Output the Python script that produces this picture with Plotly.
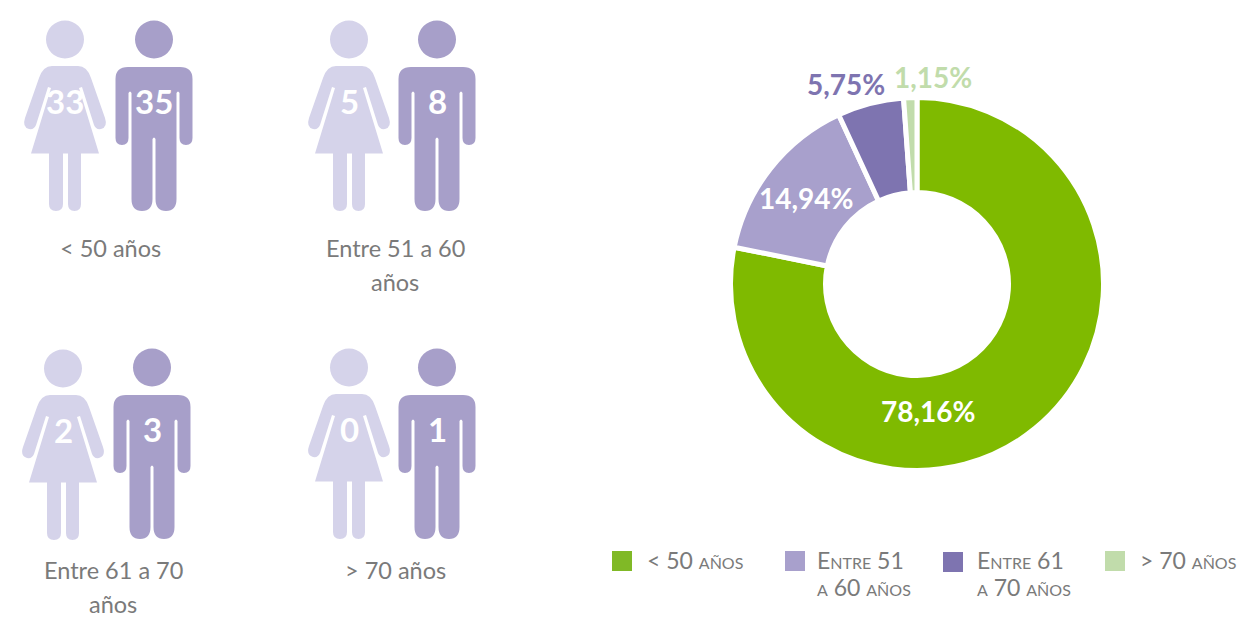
import plotly.graph_objects as go

W, H = 1255, 618

# --- data ---
age_groups = ["< 50 años", "Entre 51 a 60 años", "Entre 61 a 70 años", "> 70 años"]
women = [33, 5, 2, 0]
men = [35, 8, 3, 1]
totals = [68, 13, 5, 1]
legend_labels = [["< 50 años"], ["Entre 51", "a 60 años"], ["Entre 61", "a 70 años"], ["> 70 años"]]
pictogram_labels = [["< 50 años"], ["Entre 51 a 60", "años"], ["Entre 61 a 70", "años"], ["> 70 años"]]
slice_colors = ["#7fba00", "#a8a0cc", "#7e74b0", "#c1dcab"]
legend_colors = ["#80b926", "#a8a0cc", "#7e74b0", "#c1dcab"]
label_colors = ["#ffffff", "#ffffff", "#7e74b0", "#c1dcab"]

# --- layout constants (pixels) ---
CX, CY, R_VISIBLE, R_HOLE, GAP = 917, 284, 184, 94, 5
R = R_VISIBLE + GAP / 2
pct_pos = [(928, 410.5), (805.5, 198), (846, 83.5), (933, 77)]
legend_sq = [(612, 551), (785, 551), (943, 552), (1105, 551)]
legend_txt = [(645, 560), (815, 560), (975, 560), (1138, 560)]
legend_line = 27
picto = [  # woman cx, man cx, dy woman, dy man, label cx, label y, label line height
    (65, 154, 0, 0, 110, 249),
    (349, 437, 0, 0, 395, 249),
    (63, 152, 329, 328, 113, 571),
    (349, 437, 328, 328, 395, 571),
]
label_line = 33.5
WOMAN_C, MAN_C = "#d5d3ea", "#a79fc9"


def woman_path(c, d):
    def p(x, y):
        return f"{c + x},{y + d}"
    s = "M" + p(-13, 66) + " L" + p(13, 66) + " Q" + p(22, 66) + " " + p(26, 78)
    s += " L" + p(40, 118) + " Q" + p(43, 127) + " " + p(36, 129) + " Q" + p(31, 130) + " " + p(29, 125)
    s += " L" + p(17, 87) + " L" + p(14, 88) + " L" + p(34, 153.5)
    s += " L" + p(16, 153.5) + " L" + p(16, 204) + " Q" + p(16, 211) + " " + p(9.5, 211) + " Q" + p(3, 211) + " " + p(3, 204)
    s += " L" + p(3, 153.5) + " L" + p(-2, 153.5) + " L" + p(-2, 204) + " Q" + p(-2, 211) + " " + p(-9, 211) + " Q" + p(-16, 211) + " " + p(-16, 204)
    s += " L" + p(-16, 153.5) + " L" + p(-34, 153.5) + " L" + p(-14, 88) + " L" + p(-17, 87)
    s += " L" + p(-29, 125) + " Q" + p(-31, 130) + " " + p(-36, 129) + " Q" + p(-43, 127) + " " + p(-40, 118)
    s += " L" + p(-26, 78) + " Q" + p(-22, 66) + " " + p(-13, 66) + " Z"
    return s


def man_path(c, d):
    def p(x, y):
        return f"{c + x},{y + d}"
    s = "M" + p(-26, 67) + " L" + p(26, 67) + " Q" + p(38.5, 67) + " " + p(38.5, 79)
    s += " L" + p(38.5, 138) + " Q" + p(38.5, 145) + " " + p(32, 145) + " Q" + p(25.5, 145) + " " + p(25.5, 138)
    s += " L" + p(25.5, 93) + " Q" + p(24, 90) + " " + p(22.5, 93)
    s += " L" + p(22.5, 199) + " Q" + p(22.5, 211) + " " + p(12, 211) + " Q" + p(1.5, 211) + " " + p(1.5, 199)
    s += " L" + p(1.5, 139) + " Q" + p(0, 136) + " " + p(-1.5, 139)
    s += " L" + p(-1.5, 199) + " Q" + p(-1.5, 211) + " " + p(-12, 211) + " Q" + p(-22.5, 211) + " " + p(-22.5, 199)
    s += " L" + p(-22.5, 93) + " Q" + p(-24, 90) + " " + p(-25.5, 93)
    s += " L" + p(-25.5, 138) + " Q" + p(-25.5, 145) + " " + p(-32, 145) + " Q" + p(-38.5, 145) + " " + p(-38.5, 138)
    s += " L" + p(-38.5, 79) + " Q" + p(-38.5, 67) + " " + p(-26, 67) + " Z"
    return s


fig = go.Figure()
fig.add_trace(go.Pie(
    labels=age_groups, values=totals, sort=False, direction="clockwise", rotation=0,
    hole=(R_HOLE - GAP / 2) / R, textinfo="none", showlegend=False,
    marker=dict(colors=slice_colors, line=dict(color="#ffffff", width=GAP)),
    domain=dict(x=[(CX - R) / W, (CX + R) / W], y=[1 - (CY + R) / H, 1 - (CY - R) / H]),
))
# invisible pixel axes used to place the pictograms and labels
fig.add_trace(go.Scatter(x=[0, W], y=[0, H], mode="markers", marker=dict(opacity=0), hoverinfo="skip", showlegend=False))

shapes, ann = [], []
total_sum = sum(totals)
for i, (wc, mc, dw, dm, lx, ly) in enumerate(picto):
    shapes.append(dict(type="circle", x0=wc - 19, x1=wc + 19, y0=20.5 + dw, y1=58.5 + dw,
                       fillcolor=WOMAN_C, line_width=0, xref="x", yref="y"))
    shapes.append(dict(type="path", path=woman_path(wc, dw), fillcolor=WOMAN_C, line_width=0, xref="x", yref="y"))
    shapes.append(dict(type="circle", x0=mc - 19, x1=mc + 19, y0=20.5 + dm, y1=58.5 + dm,
                       fillcolor=MAN_C, line_width=0, xref="x", yref="y"))
    shapes.append(dict(type="path", path=man_path(mc, dm), fillcolor=MAN_C, line_width=0, xref="x", yref="y"))
    ann.append(dict(x=wc, y=100.5 + dw, text=str(women[i]), font=dict(family="Lato", size=33, color="#ffffff", weight=700)))
    ann.append(dict(x=mc, y=100.5 + dm, text=str(men[i]), font=dict(family="Lato", size=33, color="#ffffff", weight=700)))
    for k, line in enumerate(pictogram_labels[i]):
        ann.append(dict(x=lx, y=ly + k * label_line - 1, text=line,
                        font=dict(family="Lato", size=23.5, color="#7a7a7a")))

    pct = f"{totals[i] / total_sum * 100:.2f}%".replace(".", ",")
    px_, py_ = pct_pos[i]
    ann.append(dict(x=px_, y=py_, text=pct, font=dict(family="Lato", size=28, color=label_colors[i], weight=700)))

    sx, sy = legend_sq[i]
    shapes.append(dict(type="rect", x0=sx, x1=sx + 20, y0=sy, y1=sy + 20, fillcolor=legend_colors[i],
                       line_width=0, xref="x", yref="y"))
    tx, ty = legend_txt[i]
    for k, line in enumerate(legend_labels[i]):
        ann.append(dict(x=tx, y=ty + k * legend_line, text=line, xanchor="left",
                        font=dict(family="Lato", size=23, color="#7a7a7a", variant="small-caps")))

for a in ann:
    a.update(xref="x", yref="y", showarrow=False)

fig.update_layout(
    width=W, height=H, margin=dict(l=0, r=0, t=0, b=0), paper_bgcolor="#ffffff", plot_bgcolor="rgba(0,0,0,0)",
    separators=",.", showlegend=False, shapes=shapes, annotations=ann,
    xaxis=dict(range=[0, W], visible=False, domain=[0, 1], fixedrange=True),
    yaxis=dict(range=[H, 0], visible=False, domain=[0, 1], fixedrange=True),
)
fig.write_html("out.html", config=dict(displayModeBar=False),
               post_script="document.body.style.margin='0';document.body.style.overflow='hidden';")
